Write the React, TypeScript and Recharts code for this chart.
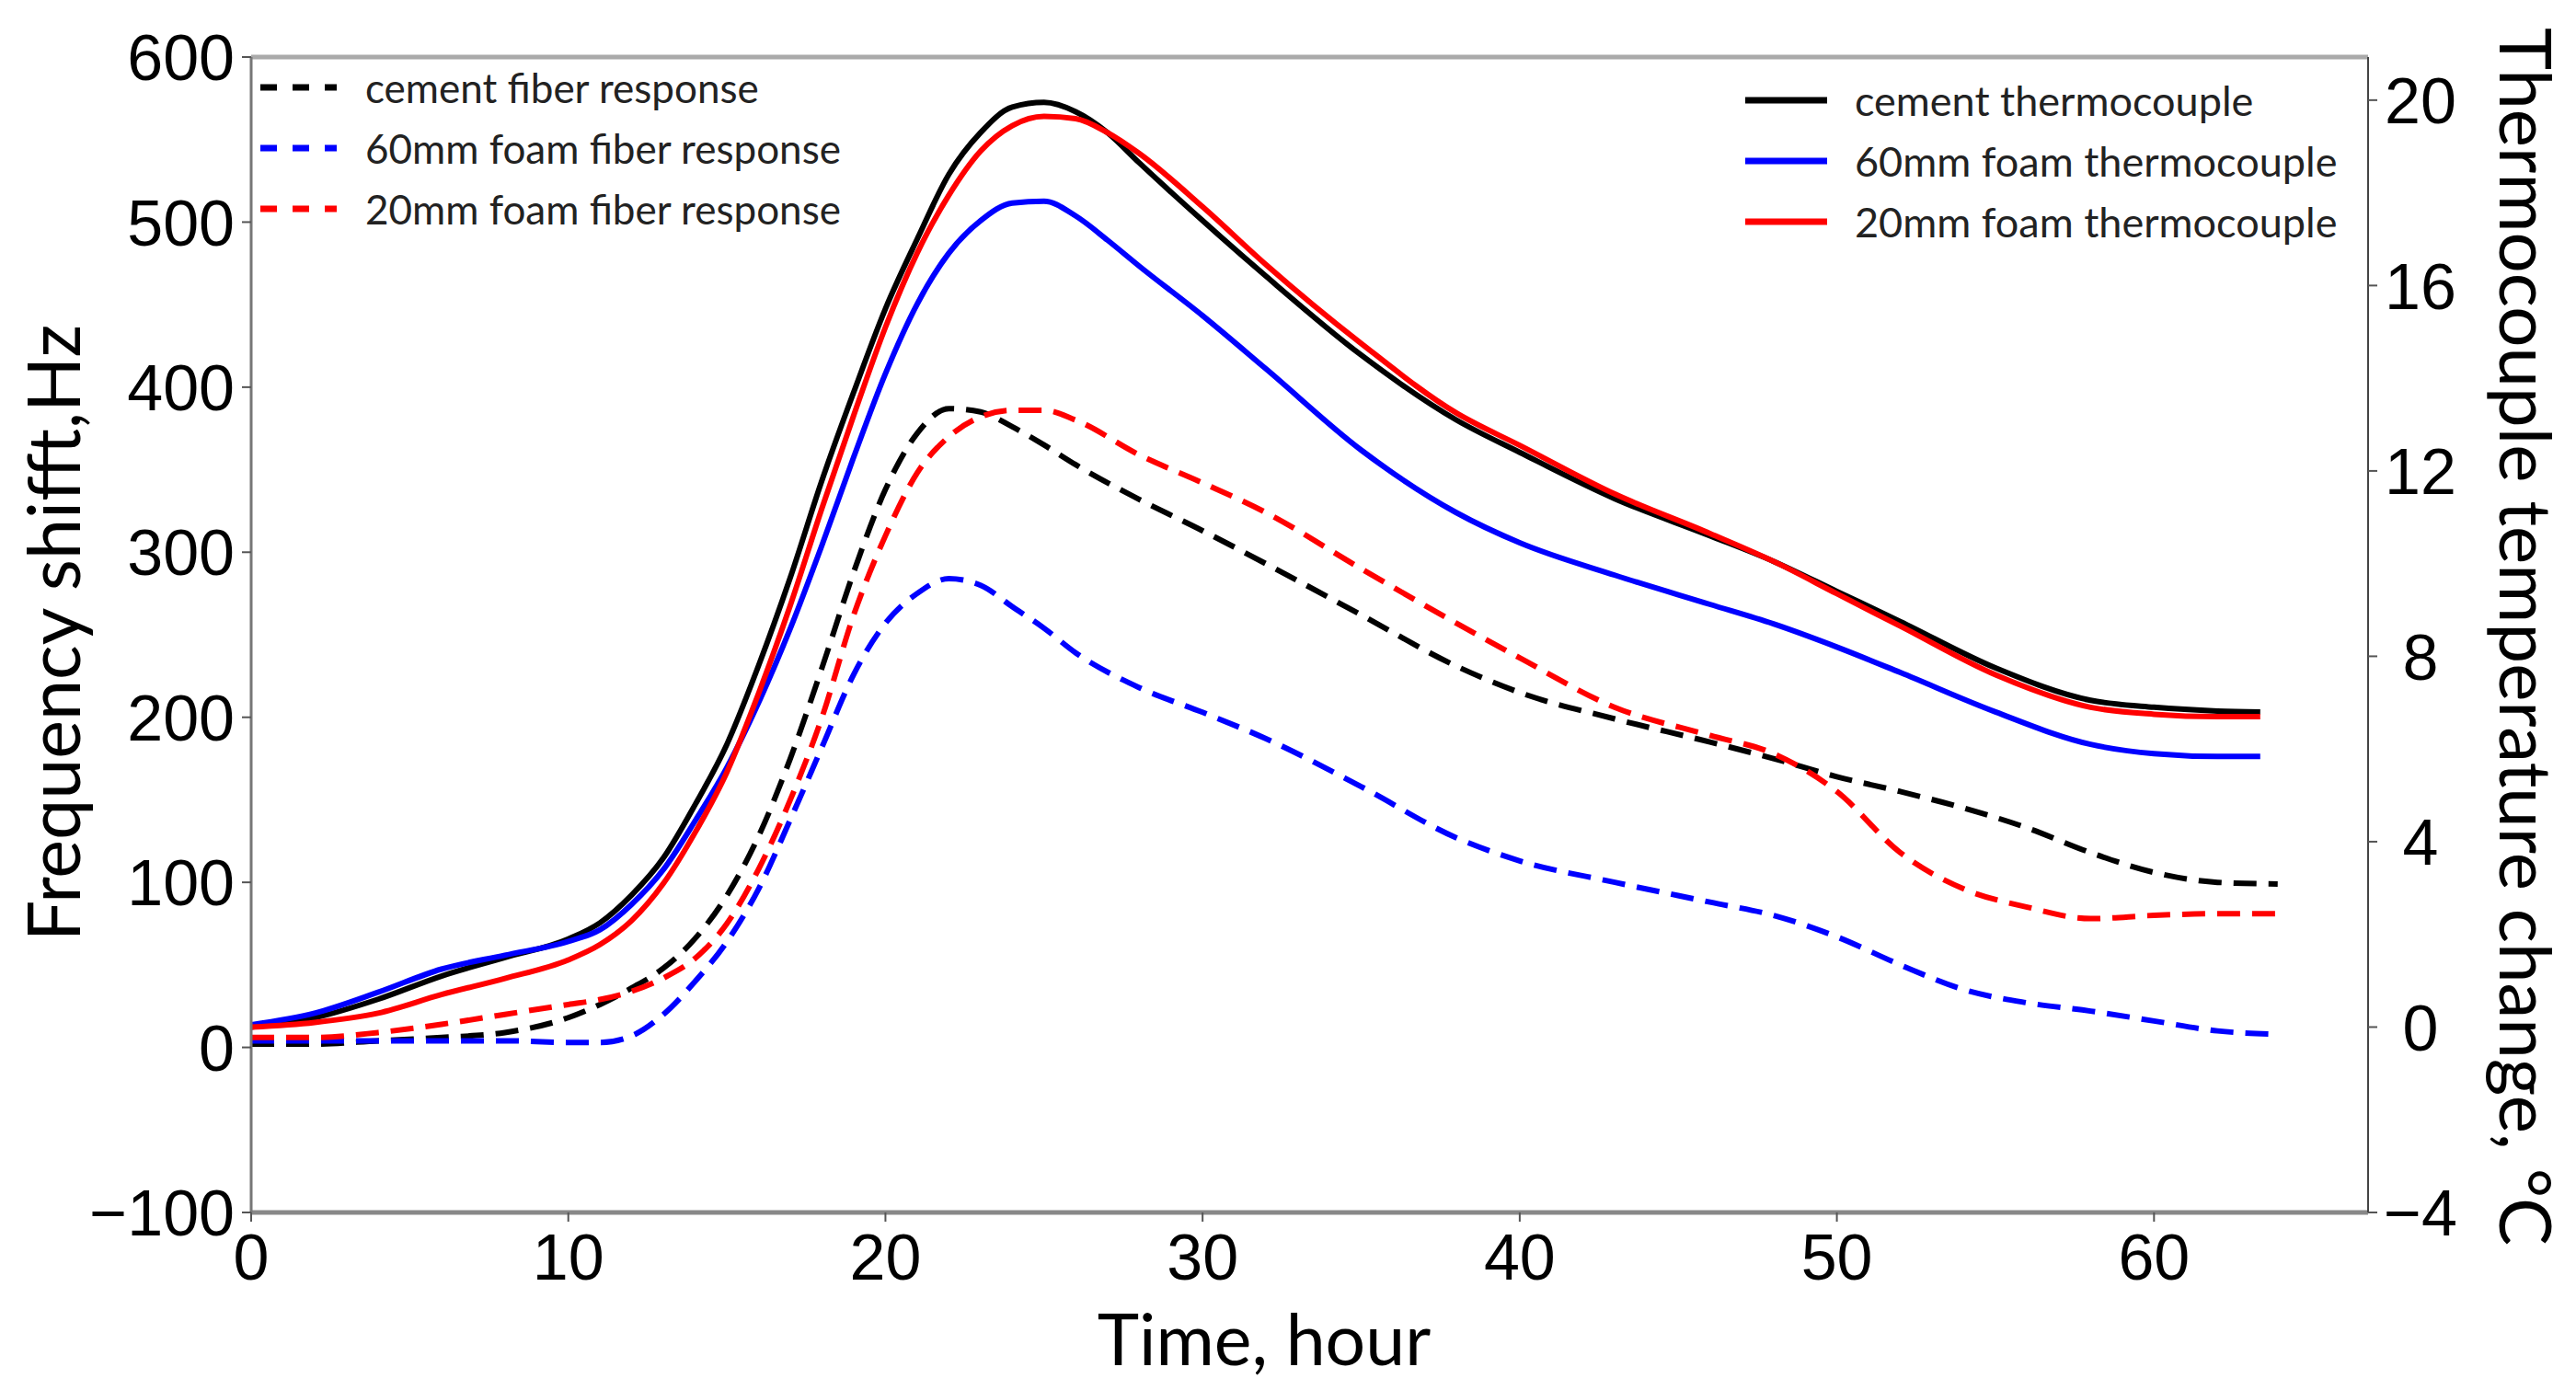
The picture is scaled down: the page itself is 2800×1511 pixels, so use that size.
import React from "react";
import { LineChart, Line, XAxis, YAxis, ReferenceLine } from "recharts";

// fiber responses (left axis, Hz)
const fiberHours = [0, 2, 4, 6, 8, 10, 11, 12, 13, 14, 15, 16, 17, 18, 19, 20, 21, 22, 23, 24, 25, 26, 28, 30, 32, 35, 38, 40, 43, 46, 48, 50, 52, 54, 56, 58, 60, 62, 63.9];
const cementFiberHz = [2, 2, 4, 6, 9, 18, 26, 36, 48, 66, 92, 128, 175, 230, 288, 338, 372, 387, 385, 376, 365, 353, 332, 313, 293, 262, 231, 215, 199, 185, 175, 164, 155, 145, 133, 118, 106, 100, 99];
const foam60FiberHz = [4, 4, 4, 4, 4, 3, 3, 7, 20, 40, 64, 96, 138, 182, 226, 257, 275, 284, 280, 267, 254, 239, 218, 203, 187, 158, 127, 113, 100, 88, 80, 67, 50, 35, 27, 22, 16, 10, 8];
const foam20FiberHz = [6, 6, 9, 14, 20, 26, 29, 34, 42, 54, 75, 108, 150, 200, 262, 310, 348, 370, 382, 386, 386, 380, 359, 342, 324, 290, 257, 236, 206, 189, 178, 155, 118, 96, 85, 78, 80, 81, 81];

// thermocouples (right axis, °C)
const thermoHours = [0, 2, 4, 6, 8, 10, 11, 12, 13, 14, 15, 16, 17, 18, 19, 20, 21, 22, 23, 24, 25, 26, 27, 28, 30, 32, 35, 38, 40, 43, 46, 48, 50, 52, 55, 58, 60, 62, 63.35];
const cementThermo = [0, 0.2, 0.6, 1.1, 1.5, 1.9, 2.25, 2.85, 3.65, 4.8, 6.1, 7.8, 9.7, 11.8, 13.7, 15.5, 17.0, 18.4, 19.3, 19.85, 19.95, 19.75, 19.3, 18.65, 17.4, 16.2, 14.5, 13.1, 12.4, 11.4, 10.6, 10.05, 9.4, 8.75, 7.75, 7.05, 6.9, 6.82, 6.8];
const foam60Thermo = [0.05, 0.3, 0.75, 1.25, 1.55, 1.85, 2.1, 2.65, 3.4, 4.45, 5.6, 7.0, 8.6, 10.4, 12.3, 14.1, 15.6, 16.7, 17.4, 17.78, 17.82, 17.5, 16.98, 16.42, 15.35, 14.2, 12.45, 11.1, 10.45, 9.75, 9.12, 8.7, 8.2, 7.65, 6.8, 6.1, 5.9, 5.84, 5.84];
const foam20Thermo = [0, 0.1, 0.3, 0.7, 1.05, 1.45, 1.78, 2.3, 3.1, 4.2, 5.5, 7.2, 9.1, 11.2, 13.2, 15.1, 16.7, 17.95, 18.9, 19.45, 19.65, 19.6, 19.3, 18.85, 17.7, 16.45, 14.75, 13.25, 12.55, 11.5, 10.65, 10.05, 9.35, 8.65, 7.6, 6.9, 6.75, 6.7, 6.7];

const hourTicks = [0, 10, 20, 30, 40, 50, 60];
const hzTicks = [-100, 0, 100, 200, 300, 400, 500, 600];
const tempTicks = [-4, 0, 4, 8, 12, 16, 20];

const fiberLegend = ["cement fiber response", "60mm foam fiber response", "20mm foam fiber response"];
const thermoLegend = ["cement thermocouple", "60mm foam thermocouple", "20mm foam thermocouple"];
const colors = ["#000000", "#0000ff", "#ff0000"];

const pair = (ts: number[], vs: number[]) => ts.map((t, i) => ({ t, v: vs[i] }));

const fiberSeries = [cementFiberHz, foam60FiberHz, foam20FiberHz].map((vs) => pair(fiberHours, vs));
const thermoSeries = [cementThermo, foam60Thermo, foam20Thermo].map((vs) => pair(thermoHours, vs));

const tickFont = {
  fontFamily: '"Liberation Sans", Arial, sans-serif',
  fontSize: 70,
  fill: "#000",
};
const titleFont = '"Lato", "Noto Sans", sans-serif';
const fmt = (v: number) => String(v).replace("-", "\u2212");

function LeftTick(props: any) {
  const { x, y, payload } = props;
  return (
    <text x={x} y={y} dy="0.36em" textAnchor="end" {...tickFont}>
      {fmt(payload.value)}
    </text>
  );
}

function RightTick(props: any) {
  const { x, y, payload } = props;
  return (
    <text x={x} y={y} dy="0.36em" textAnchor="middle" {...tickFont}>
      {fmt(payload.value)}
    </text>
  );
}

function BottomTick(props: any) {
  const { x, y, payload } = props;
  return (
    <text x={x} y={y} dy="0.72em" textAnchor="middle" {...tickFont}>
      {fmt(payload.value)}
    </text>
  );
}

export default function App() {
  return (
    <div style={{ position: "absolute", left: 0, top: 0, width: 2800, height: 1511, background: "#fff" }}>
      <LineChart width={2800} height={1511} margin={{ top: 62, right: 106, bottom: 83, left: 73 }}>
        <XAxis
          xAxisId="t"
          dataKey="t"
          type="number"
          domain={[0, 66.75]}
          ticks={hourTicks}
          allowDataOverflow
          height={110}
          tickSize={10}
          tickMargin={13}
          tick={<BottomTick />}
          axisLine={{ stroke: "#888", strokeWidth: 5 }}
          tickLine={{ stroke: "#555", strokeWidth: 2 }}
        />
        <YAxis
          yAxisId="hz"
          type="number"
          domain={[-100, 600]}
          ticks={hzTicks}
          allowDataOverflow
          width={200}
          tickSize={10}
          tickMargin={8}
          tick={<LeftTick />}
          axisLine={{ stroke: "#777", strokeWidth: 3 }}
          tickLine={{ stroke: "#555", strokeWidth: 2 }}
        />
        <YAxis
          yAxisId="temp"
          orientation="right"
          type="number"
          domain={[-4, 20.93]}
          ticks={tempTicks}
          allowDataOverflow
          width={120}
          tickSize={10}
          tickMargin={47}
          tick={<RightTick />}
          axisLine={{ stroke: "#444", strokeWidth: 2 }}
          tickLine={{ stroke: "#555", strokeWidth: 2 }}
        />
        <ReferenceLine xAxisId="t" yAxisId="hz" y={600} stroke="#aaa" strokeWidth={5} />
        {fiberSeries.map((d, i) => (
          <Line
            key={fiberLegend[i]}
            name={fiberLegend[i]}
            data={d}
            dataKey="v"
            xAxisId="t"
            yAxisId="hz"
            type="monotone"
            stroke={colors[i]}
            strokeWidth={6}
            strokeDasharray="25 13"
            dot={false}
            activeDot={false}
            isAnimationActive={false}
          />
        ))}
        {thermoSeries.map((d, i) => (
          <Line
            key={thermoLegend[i]}
            name={thermoLegend[i]}
            data={d}
            dataKey="v"
            xAxisId="t"
            yAxisId="temp"
            type="monotone"
            stroke={colors[i]}
            strokeWidth={6}
            dot={false}
            activeDot={false}
            isAnimationActive={false}
          />
        ))}
      </LineChart>

      {/* axis titles and the two legends */}
      <svg
        width={2800}
        height={1511}
        style={{ position: "absolute", left: 0, top: 0, pointerEvents: "none" }}
      >
        <text transform="translate(87,688) rotate(-90)" textAnchor="middle" fontFamily={titleFont} fontSize={79} fill="#000">
          Frequency shifft,Hz
        </text>
        <text transform="translate(2717,692) rotate(90)" textAnchor="middle" fontFamily={titleFont} fontSize={78} fill="#000">
          Thermocouple temperature change, °C
        </text>
        <text x={1374} y={1484} textAnchor="middle" fontFamily={titleFont} fontSize={77} fill="#000">
          Time, hour
        </text>

        {fiberLegend.map((label, i) => (
          <g key={label}>
            <line x1={283} x2={366} y1={95 + i * 66} y2={95 + i * 66} stroke={colors[i]} strokeWidth={7} strokeDasharray="18 17" />
            <text x={397} y={95 + i * 66} dominantBaseline="central" fontFamily={titleFont} fontSize={44} fill="#222">
              {label}
            </text>
          </g>
        ))}
        {thermoLegend.map((label, i) => (
          <g key={label}>
            <line x1={1897} x2={1986} y1={109 + i * 66} y2={109 + i * 66} stroke={colors[i]} strokeWidth={7} />
            <text x={2016} y={109 + i * 66} dominantBaseline="central" fontFamily={titleFont} fontSize={45} fill="#222">
              {label}
            </text>
          </g>
        ))}
      </svg>
    </div>
  );
}
